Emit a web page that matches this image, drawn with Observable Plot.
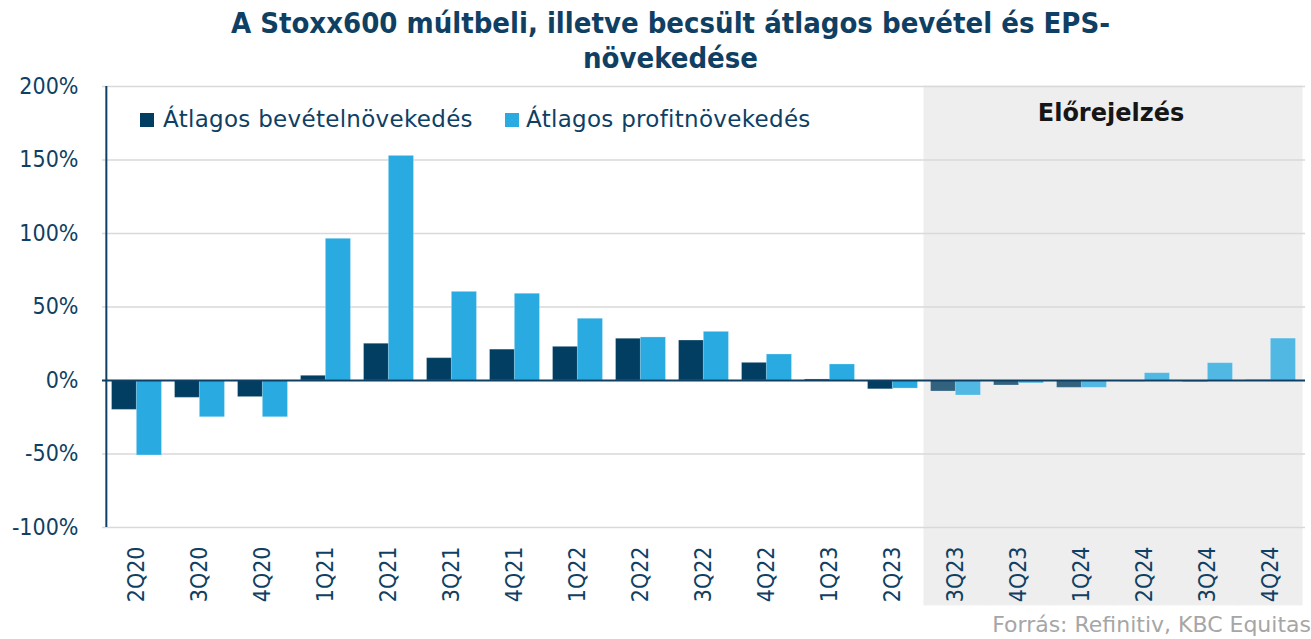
<!DOCTYPE html>
<html>
<head>
<meta charset="utf-8">
<script src="https://cdn.jsdelivr.net/npm/d3@7"></script>
<script src="https://cdn.jsdelivr.net/npm/@observablehq/plot@0.6"></script>
<style>
  html, body { margin: 0; padding: 0; background: #ffffff; }
  #wrap { position: relative; width: 1311px; height: 639px; overflow: hidden; }
  #chart { position: absolute; left: 0; top: 0; }
  .title { position: absolute; left: 0; width: 1341px; text-align: center; font-family: "DejaVu Sans Condensed", "DejaVu Sans", sans-serif; font-weight: bold; font-size: 29px; line-height: 35px; color: #0f3f63; white-space: nowrap; }
  .leg { position: absolute; font-family: "DejaVu Sans", sans-serif; font-size: 23px; line-height: 23px; letter-spacing: 0.3px; color: #0f3f63; white-space: nowrap; }
  .sw { position: absolute; width: 14px; height: 14px; }
  .fc { position: absolute; font-family: "DejaVu Sans", sans-serif; font-weight: bold; font-size: 24px; line-height: 24px; color: #161616; white-space: nowrap; transform: translateX(-50%); }
  .src { position: absolute; right: 0; font-family: "DejaVu Sans", sans-serif; font-size: 22px; line-height: 22px; color: #a6a6a6; white-space: nowrap; }
</style>
</head>
<body>
<div id="wrap">
  <div id="chart"></div>
  <div class="title" style="top:6px">A Stoxx600 múltbeli, illetve becsült átlagos bevétel és EPS-</div>
  <div class="title" style="top:41px">növekedése</div>
  <div class="sw" id="sw1" style="left:140px; top:113px;"></div>
  <div class="leg" id="lg1" style="left:163px; top:108px;"></div>
  <div class="sw" id="sw2" style="left:505px; top:113px;"></div>
  <div class="leg" id="lg2" style="left:526px; top:108px;"></div>
  <div class="fc" id="fc" style="left:1111px; top:101px;"></div>
  <div class="src" style="top:614px">Forrás: Refinitiv, KBC Equitas</div>
</div>
<script>
// ---- data ----
const quarters = ["2Q20","3Q20","4Q20","1Q21","2Q21","3Q21","4Q21","1Q22","2Q22","3Q22","4Q22","1Q23","2Q23","3Q23","4Q23","1Q24","2Q24","3Q24","4Q24"];
const revenueGrowth = [-20, -11.8, -11.3, 3.2, 25, 15.2, 21, 22.9, 28.4, 27.2, 12, 0.7, -6, -7.5, -3.4, -5, -0.8, -1, 0.2];
const profitGrowth = [-51, -25, -25, 96.4, 152.8, 60.3, 59, 42, 29.3, 33.1, 17.7, 10.9, -5.5, -10.2, -2, -5, 5, 11.8, 28.5];
const forecastQuarters = ["3Q23","4Q23","1Q24","2Q24","3Q24","4Q24"];
const seriesNames = ["Átlagos bevételnövekedés", "Átlagos profitnövekedés"];
const forecastLabel = "Előrejelzés";
const yTicks = [-100, -50, 0, 50, 100, 150, 200];

// ---- styles ----
const darkBlue = "#023e62";
const lightBlue = "#29aae1";
const textBlue = "#0f3f63";

const W = 1311, H = 639;
const mL = 102, mR = 6, mT = 86, mB = 112;
const bw = (W - mL - mR) / quarters.length;
const gap = bw * 0.103;
const half = bw / 2;

const rows = quarters.map((q, i) => ({q, rev: revenueGrowth[i], eps: profitGrowth[i], fc: forecastQuarters.includes(q)}));

document.getElementById("sw1").style.background = darkBlue;
document.getElementById("sw2").style.background = lightBlue;
document.getElementById("lg1").textContent = seriesNames[0];
document.getElementById("lg2").textContent = seriesNames[1];
document.getElementById("fc").textContent = forecastLabel;

const chart = Plot.plot({
  width: W,
  height: H,
  marginLeft: mL,
  marginRight: mR,
  marginTop: mT,
  marginBottom: mB,
  style: {fontFamily: "'DejaVu Sans Condensed', 'DejaVu Sans', sans-serif", fontSize: "23px", color: textBlue, background: "transparent"},
  x: {domain: quarters, padding: 0, label: null},
  y: {domain: [-100, 200], label: null},
  marks: [
    // forecast background
    Plot.barY(forecastQuarters, {x: d => d, y1: -153, y2: 200, fill: "#eeeeee", stroke: "#eeeeee", strokeWidth: 1}),
    // grid
    Plot.ruleY(yTicks.filter(d => d !== 0), {stroke: "#d9d9d9", strokeWidth: 1.6}),
    // bars
    Plot.barY(rows, {x: "q", y: "rev", fill: darkBlue, fillOpacity: d => d.fc ? 0.8 : 1, insetLeft: gap, insetRight: bw - half - 0.3, stroke: "#ffffff", strokeOpacity: 0.25, strokeWidth: 1}),
    Plot.barY(rows, {x: "q", y: "eps", fill: lightBlue, fillOpacity: d => d.fc ? 0.8 : 1, insetLeft: half - 0.3, insetRight: gap, stroke: "#ffffff", strokeOpacity: 0.25, strokeWidth: 1}),
    // zero line
    Plot.ruleY([0], {stroke: textBlue, strokeWidth: 2}),
    // y axis line
    Plot.ruleX([quarters[0]], {x: d => d, dx: -half + 1, y1: -100, y2: 200, stroke: textBlue, strokeWidth: 2}),
    Plot.axisY({ticks: yTicks, tickFormat: d => d + "%", tickSize: 0, tickPadding: 24, label: null}),
    Plot.axisX({tickRotate: -90, tickSize: 0, tickPadding: 19, label: null})
  ]
});
document.getElementById("chart").appendChild(chart);
</script>
</body>
</html>
